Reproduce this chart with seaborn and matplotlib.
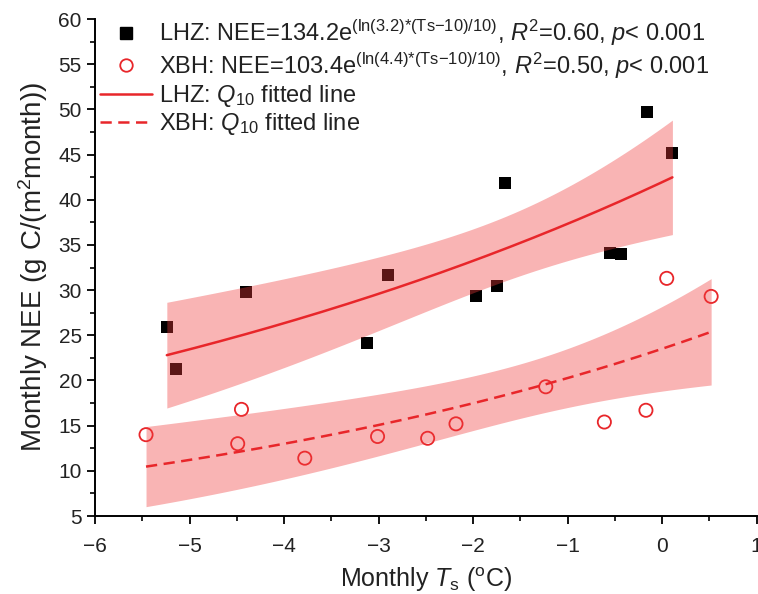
import numpy as np
import pandas as pd
import matplotlib
matplotlib.use("Agg")
import matplotlib.pyplot as plt
import seaborn as sns
from matplotlib.ticker import MultipleLocator
from matplotlib.lines import Line2D

# Monthly soil temperature (degC) and monthly NEE (g C/(m2 month))
lhz_ts = [-5.24, -5.14, -4.40, -3.12, -2.90, -1.97, -1.75, -1.66, -0.55, -0.43, -0.16, 0.11]
lhz_nee = [25.9, 21.3, 29.8, 24.2, 31.7, 29.3, 30.5, 41.9, 34.1, 34.0, 49.7, 45.2]

xbh_ts = [-5.46, -4.49, -4.45, -3.78, -3.01, -2.48, -2.18, -1.23, -0.61, -0.17, 0.05, 0.52]
xbh_nee = [14.0, 13.0, 16.8, 11.4, 13.8, 13.6, 15.2, 19.3, 15.4, 16.7, 31.3, 29.3]

# Q10 model parameters: NEE = A * exp(ln(Q10) * (Ts - 10) / 10)
lhz_A, lhz_Q10, lhz_r2 = 134.2, 3.2, 0.60
xbh_A, xbh_Q10, xbh_r2 = 103.4, 4.4, 0.50

X_TICKS = list(range(-6, 2))
Y_TICKS = list(range(5, 61, 5))

T_CRIT = 2.228  # two-sided 95 % t value, 10 degrees of freedom


def q10_curve(A, q10, t):
    return A * np.exp(np.log(q10) * (t - 10.0) / 10.0)


def q10_band(ts, nee, A, q10, grid):
    """95 % confidence band of the Q10 fit (delta method on A and b)."""
    ts = np.asarray(ts, float)
    nee = np.asarray(nee, float)
    f = q10_curve(A, q10, ts)
    J = np.column_stack([f / A, f * (ts - 10.0)])
    s2 = np.sum((nee - f) ** 2) / (len(ts) - 2)
    cov = s2 * np.linalg.inv(J.T @ J)
    fg = q10_curve(A, q10, grid)
    G = np.column_stack([fg / A, fg * (grid - 10.0)])
    half = T_CRIT * np.sqrt(np.einsum("ij,jk,ik->i", G, cov, G))
    return fg - half, fg + half


sns.set_theme(style="ticks")
plt.rcParams["font.family"] = ["Liberation Sans", "DejaVu Sans"]
plt.rcParams["mathtext.fontset"] = "custom"
plt.rcParams["mathtext.rm"] = "Liberation Sans"
plt.rcParams["mathtext.it"] = "Liberation Sans:italic"
plt.rcParams["mathtext.bf"] = "Liberation Sans:bold"

fig = plt.figure(figsize=(7.58, 5.94), dpi=100)
ax = fig.add_axes([95 / 758, 1 - 516 / 594, (756.5 - 95) / 758, (516 - 19) / 594])

RED = "#E8262A"
BAND = "#F03A3A"

pts_lhz = pd.DataFrame({"Ts": lhz_ts, "NEE": lhz_nee})
pts_xbh = pd.DataFrame({"Ts": xbh_ts, "NEE": xbh_nee})

sns.scatterplot(data=pts_lhz, x="Ts", y="NEE", ax=ax, marker="s", s=70,
                color="black", edgecolor="black", linewidth=0, zorder=2)
sns.scatterplot(data=pts_xbh, x="Ts", y="NEE", ax=ax, marker="o", s=90,
                facecolor="none", edgecolor=RED, linewidth=1.3, zorder=2)

for ts, nee, A, q, ls in [(lhz_ts, lhz_nee, lhz_A, lhz_Q10, "-"),
                          (xbh_ts, xbh_nee, xbh_A, xbh_Q10, "--")]:
    grid = np.linspace(min(ts), max(ts), 200)
    lo, hi = q10_band(ts, nee, A, q, grid)
    ax.fill_between(grid, lo, hi, color=BAND, alpha=0.38, linewidth=0, zorder=3)
    fit = pd.DataFrame({"Ts": grid, "NEE": q10_curve(A, q, grid)})
    line = sns.lineplot(data=fit, x="Ts", y="NEE", ax=ax, color=RED,
                        linewidth=1.8, zorder=4)
    if ls == "--":
        line.lines[-1].set_dashes((4.5, 2.6))

ax.set_xlim(-6, 1)
ax.set_ylim(5, 60)
ax.set_xticks(X_TICKS)
ax.set_yticks(Y_TICKS)
ax.xaxis.set_minor_locator(MultipleLocator(0.5))
ax.yaxis.set_minor_locator(MultipleLocator(2.5))
ax.tick_params(axis="both", which="major", length=6, width=1.3, labelsize=15,
               color="black", labelcolor="#222222", direction="out")
ax.tick_params(axis="both", which="minor", length=3.5, width=1.2, color="black",
               direction="out")
ax.tick_params(axis="x", pad=9)
for side in ("left", "bottom"):
    ax.spines[side].set_linewidth(1.4)
    ax.spines[side].set_color("black")
ax.spines["top"].set_visible(False)
ax.spines["right"].set_visible(False)
for lab in ax.get_xticklabels():
    lab.set_clip_on(False)

ax.set_xlabel(r"Monthly $T_{\mathregular{s}}$ ($^{\mathregular{o}}$C)", fontsize=18,
              color="#222222", labelpad=7)
ax.set_ylabel(r"Monthly NEE (g C/(m$^{\mathregular{2}}$month))", fontsize=20,
              color="#222222", labelpad=6)

handles = [
    Line2D([], [], marker="s", color="black", linestyle="none", markersize=8),
    Line2D([], [], marker="o", markerfacecolor="none", markeredgecolor=RED,
           markeredgewidth=1.3, linestyle="none", markersize=9),
    Line2D([], [], color=RED, linewidth=1.8),
    Line2D([], [], color=RED, linewidth=1.8, dashes=(4.5, 2.6)),
]
labels = [
    r"LHZ: NEE=%.1fe$^{\mathregular{(ln(%.1f){*}(Ts{-}10)/10)}}$, $R^{\mathregular{2}}$=%.2f, $p$< 0.001"
    % (lhz_A, lhz_Q10, lhz_r2),
    r"XBH: NEE=%.1fe$^{\mathregular{(ln(%.1f){*}(Ts{-}10)/10)}}$, $R^{\mathregular{2}}$=%.2f, $p$< 0.001"
    % (xbh_A, xbh_Q10, xbh_r2),
    r"LHZ: $Q_{\mathregular{10}}$ fitted line",
    r"XBH: $Q_{\mathregular{10}}$ fitted line",
]
leg = ax.legend(handles, labels, loc="upper left", bbox_to_anchor=(0.0, 1.012),
                frameon=False, fontsize=17, handlelength=2.2, handletextpad=0.3,
                labelspacing=0.1, borderaxespad=0.1, borderpad=0.1)
for t in leg.get_texts():
    t.set_color("#222222")

fig.savefig("out.png", dpi=100)
